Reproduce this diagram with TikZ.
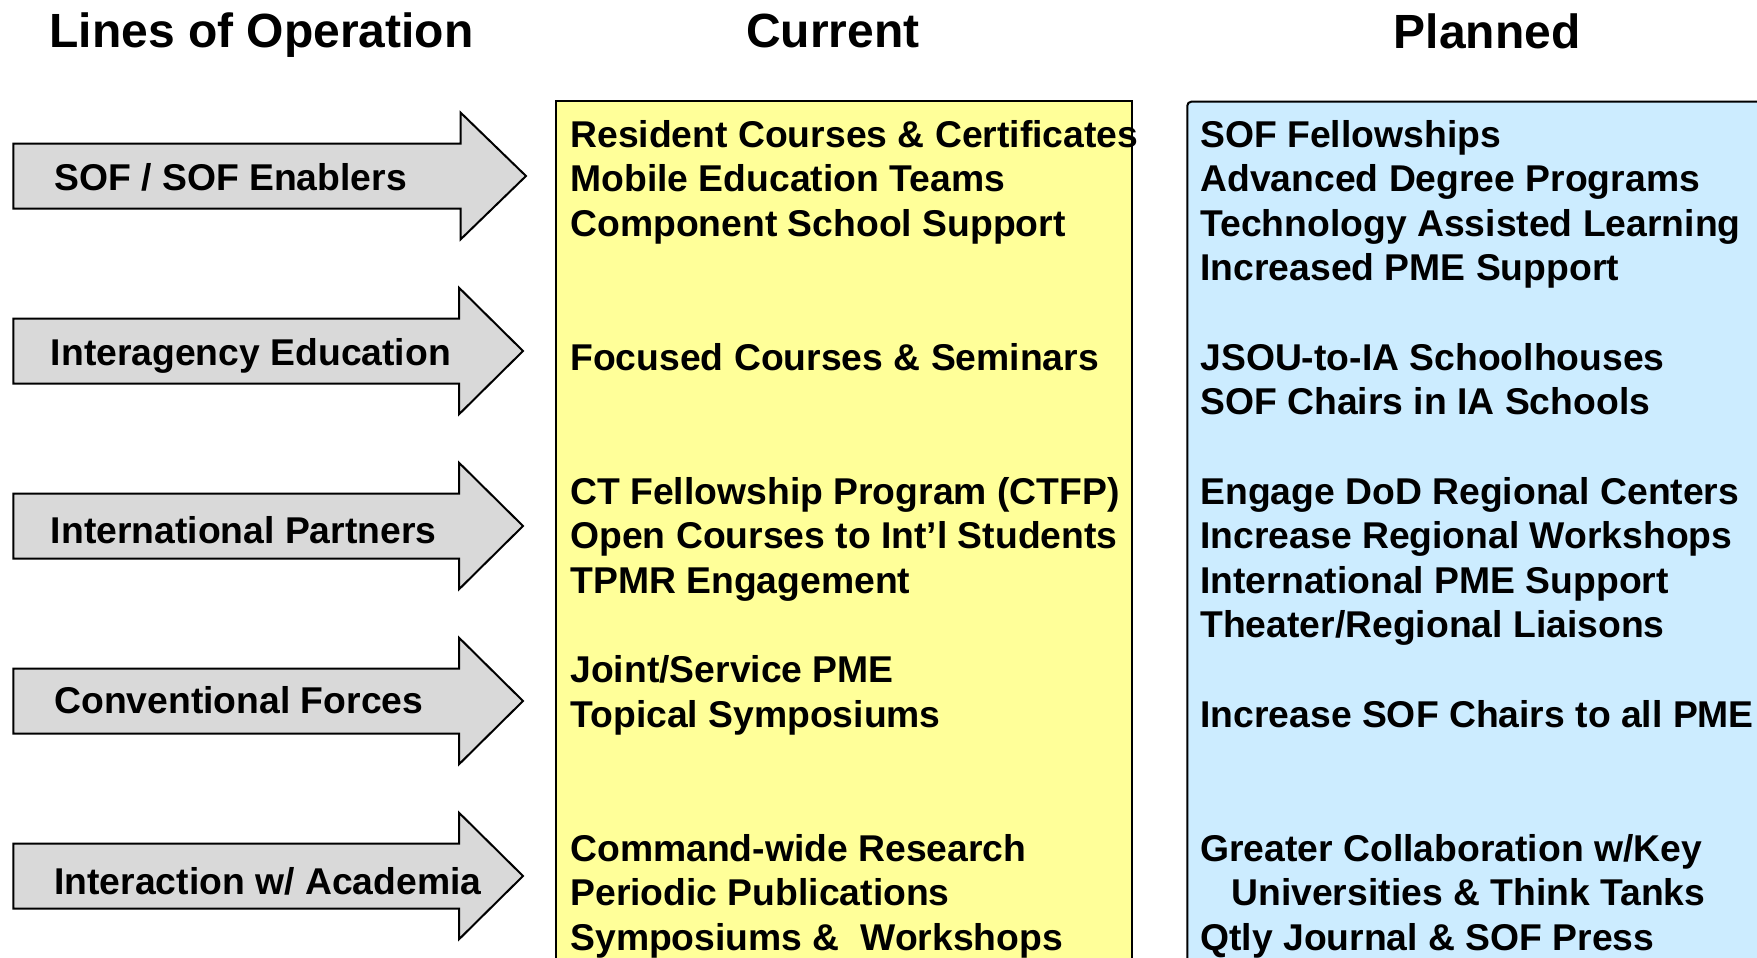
\documentclass[tikz,border=0pt]{standalone}
\usepackage{fontspec}
\setmainfont{Liberation Sans}
\definecolor{arrgray}{HTML}{D9D9D9}
\definecolor{curyellow}{HTML}{FFFF99}
\definecolor{planblue}{HTML}{CCECFF}
\begin{document}
\begin{tikzpicture}[x=0.5pt,y=-0.5pt,
  lbl/.style={anchor=base west, inner sep=0pt, font=\fontsize{18.65}{22.3}\selectfont\bfseries},
  ttl/.style={anchor=base, inner sep=0pt, font=\fontsize{24}{28}\selectfont\bfseries},
  arrshape/.style={draw=black, line width=1pt, fill=arrgray, line join=miter},
  colbox/.style={draw=black, line width=1pt}]
\useasboundingbox (0,0) rectangle (1757,958);
\clip (0,0) rectangle (1757,958);
\fill[white] (0,0) rectangle (1757,958);
% titles
\node[ttl] (tlo) at (261.6,47) {Lines of Operation};
\node[ttl] (tcur) at (833,47) {Current};
\node[ttl] (tplan) at (1487,48) {Planned};
% column boxes
\draw[colbox, fill=curyellow] (555.7,101) rectangle (1132,1010);
\draw[colbox, fill=planblue, rounded corners=2pt] (1187.3,101.7) rectangle (1800,1010);
% arrows
\foreach \i/\cy/\hb/\tp/\lx/\ly/\txt in {
  1/176/460.7/526/54/190/{SOF / SOF Enablers},
  2/351/459/523/50.5/365.5/{Interagency Education},
  3/526/459/523/50.5/543/{International Partners},
  4/701/459/523/54/713.5/{Conventional Forces},
  5/876/459/523/54/894/{Interaction w/ Academia}}{
  \draw[arrshape] (13.3,\cy-32.5) -- (\hb,\cy-32.5) -- (\hb,\cy-63.3) -- (\tp,\cy)
     -- (\hb,\cy+63.3) -- (\hb,\cy+32.5) -- (13.3,\cy+32.5) -- cycle;
  \node[lbl] (lo\i) at (\lx,\ly) {\txt};
}
% current items
\foreach \k/\t in {
  0/{Resident Courses \& Certificates},
  1/{Mobile Education Teams},
  2/{Component School Support},
  5/{Focused Courses \& Seminars},
  8/{CT Fellowship Program (CTFP)},
  9/{Open Courses to Int’l Students},
  10/{TPMR Engagement},
  12/{Joint/Service PME},
  13/{Topical Symposiums},
  16/{Command-wide Research},
  17/{Periodic Publications},
  18/{Symposiums \&\ \ Workshops}}{
  \node[lbl] (c\k) at (570,{147+44.63*\k}) {\t};
}
% planned items
\foreach \k/\t in {
  0/{SOF Fellowships},
  1/{Advanced Degree Programs},
  2/{Technology Assisted Learning},
  3/{Increased PME Support},
  5/{JSOU-to-IA Schoolhouses},
  6/{SOF Chairs in IA Schools},
  8/{Engage DoD Regional Centers},
  9/{Increase Regional Workshops},
  10/{International PME Support},
  11/{Theater/Regional Liaisons},
  13/{Increase SOF Chairs to all PME},
  16/{Greater Collaboration w/Key},
  17/{\hspace*{15.5pt}Universities \& Think Tanks},
  18/{Qtly Journal \& SOF Press}}{
  \node[lbl] (p\k) at (1200,{147+44.63*\k}) {\t};
}
\end{tikzpicture}
\end{document}
